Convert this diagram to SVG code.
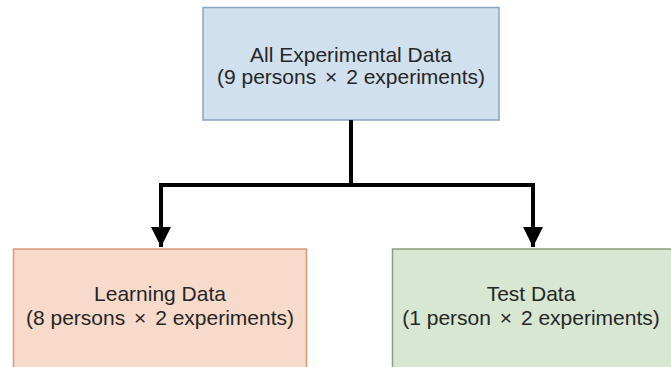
<svg xmlns="http://www.w3.org/2000/svg" width="671" height="367" viewBox="0 0 671 367">
<style>
.t{font-family:"Liberation Sans","Noto Sans CJK JP",sans-serif;font-size:21px;fill:#262626;text-anchor:middle}
.c{fill:none;stroke:#000;stroke-width:4}
</style>
<defs>
<marker id="ah" markerUnits="userSpaceOnUse" markerWidth="20" markerHeight="20" refX="18" refY="9" orient="auto" viewBox="0 0 18 18">
<path d="M0,0 L18,9 L0,18 Z" fill="#000"/>
</marker>
</defs>
<rect width="671" height="367" fill="#fff"/>
<g id="all">
<rect x="203" y="7.5" width="296" height="112.5" fill="#D0E0EF" stroke="#8DA5C0" stroke-width="1.5"/>
<text class="t" x="351" y="62">All Experimental Data</text>
<text class="t" x="351" y="84">(9 persons <tspan dx="3">×</tspan><tspan dx="3"> 2 experiments)</tspan></text>
</g>
<g id="learning">
<rect x="13.5" y="249" width="293" height="130" fill="#F8DACB" stroke="#D49A7A" stroke-width="1.5"/>
<text class="t" x="160" y="301">Learning Data</text>
<text class="t" x="160" y="325">(8 persons <tspan dx="3">×</tspan><tspan dx="3"> 2 experiments)</tspan></text>
</g>
<g id="test">
<rect x="392.5" y="249" width="293" height="130" fill="#D7E7D2" stroke="#8C9F80" stroke-width="1.5"/>
<text class="t" x="531" y="301">Test Data</text>
<text class="t" x="531" y="325">(1 person <tspan dx="3">×</tspan><tspan dx="3"> 2 experiments)</tspan></text>
</g>
<g id="connectors">
<path class="c" d="M351,120 V185"/>
<path class="c" d="M351,185 H161 V247" marker-end="url(#ah)"/>
<path class="c" d="M351,185 H533 V247" marker-end="url(#ah)"/>
</g>
</svg>
